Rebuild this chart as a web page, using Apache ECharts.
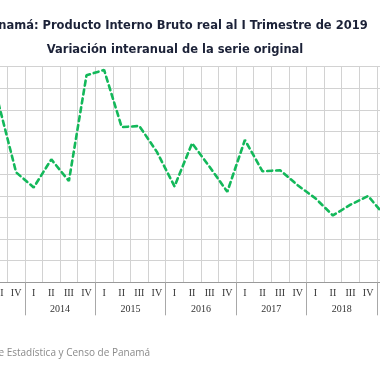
<!DOCTYPE html>
<html><head><meta charset="utf-8">
<script src="https://cdn.jsdelivr.net/npm/echarts@6/dist/echarts.min.js"></script>
<style>html,body{margin:0;padding:0;background:#fff;overflow:hidden;width:380px;height:380px;position:relative}#c{position:absolute;left:-46px;top:0;width:460px;height:380px}</style>
</head><body><div id="c"></div>
<script>
var quarters = ['I','II','III','IV','I','II','III','IV','I','II','III','IV','I','II','III','IV','I','II','III','IV','I','II','III','IV','I'];
var years = ['2013','2014','2015','2016','2017','2018','2019'];
var quartersPerYear = [4,4,4,4,4,4,1];
var growth = [null,null,8.3,5.1,4.4,5.7,4.7,9.6,9.85,7.2,7.25,6.05,4.45,6.45,5.35,4.2,6.6,5.15,5.2,4.5,3.9,3.1,3.6,4.0,3.05];

// year axis: half-quarter positions (boundaryGap false)
var yearCats = [];
for (var i = 0; i <= quarters.length * 2; i++) yearCats.push('');
var yearTickIdx = {0: true};
var yearLabelIdx = {};
var pos = 0;
years.forEach(function (y, k) {
  yearCats[pos + quartersPerYear[k]] = y;
  if (quartersPerYear[k] === 4) yearLabelIdx[pos + quartersPerYear[k]] = true;
  pos += quartersPerYear[k] * 2;
  yearTickIdx[pos] = true;
});

var chart = echarts.init(document.getElementById('c'), null, {renderer: 'canvas'});
chart.setOption({
  animation: false,
  title: {
    text: 'Panamá: Producto Interno Bruto real al I Trimestre de 2019\nVariación interanual de la serie original',
    left: 216, top: 9, textAlign: 'center',
    textStyle: {fontFamily: 'DejaVu Sans', fontWeight: 'bold', fontSize: 11.5, color: '#1c2238', lineHeight: 24}
  },
  graphic: [{
    type: 'text', x: 196, y: 353,
    style: {text: 'Fuente: Instituto Nacional de Estadística y Censo de Panamá', align: 'right', verticalAlign: 'middle',
      fill: '#8a8a8a', font: '10px "Open Sans"'}
  }],
  grid: {left: 0.5, width: 440, top: 66.7, height: 215.6, containLabel: false},
  xAxis: [{
    type: 'category', data: quarters, boundaryGap: true, position: 'bottom',
    axisLine: {lineStyle: {color: '#9a9a9a', width: 1}},
    axisTick: {show: false},
    axisLabel: {interval: 0, margin: 6, fontFamily: 'Liberation Serif', fontSize: 10, color: '#333'},
    splitLine: {show: true, interval: 0, lineStyle: {color: '#d2d2d2', width: 1}}
  }, {
    type: 'category', data: yearCats, boundaryGap: false, position: 'bottom',
    axisLine: {show: false},
    axisTick: {show: true, length: 33, interval: function (idx) { return !!yearTickIdx[idx]; }, lineStyle: {color: '#a8a8a8'}},
    axisLabel: {interval: function (idx) { return !!yearLabelIdx[idx]; }, margin: 22, fontFamily: 'Liberation Serif', fontSize: 10, color: '#333'},
    splitLine: {show: false}
  }],
  yAxis: {
    type: 'value', min: 0, max: 10, interval: 1,
    axisLine: {show: false}, axisTick: {show: false}, axisLabel: {show: false},
    splitLine: {lineStyle: {color: '#d2d2d2', width: 1}}
  },
  series: [{
    type: 'line', xAxisIndex: 0, data: growth, showSymbol: false, symbol: 'none',
    lineStyle: {color: '#13b85a', width: 2.6, type: [5, 4], cap: 'round'}
  }]
});
</script></body></html>
